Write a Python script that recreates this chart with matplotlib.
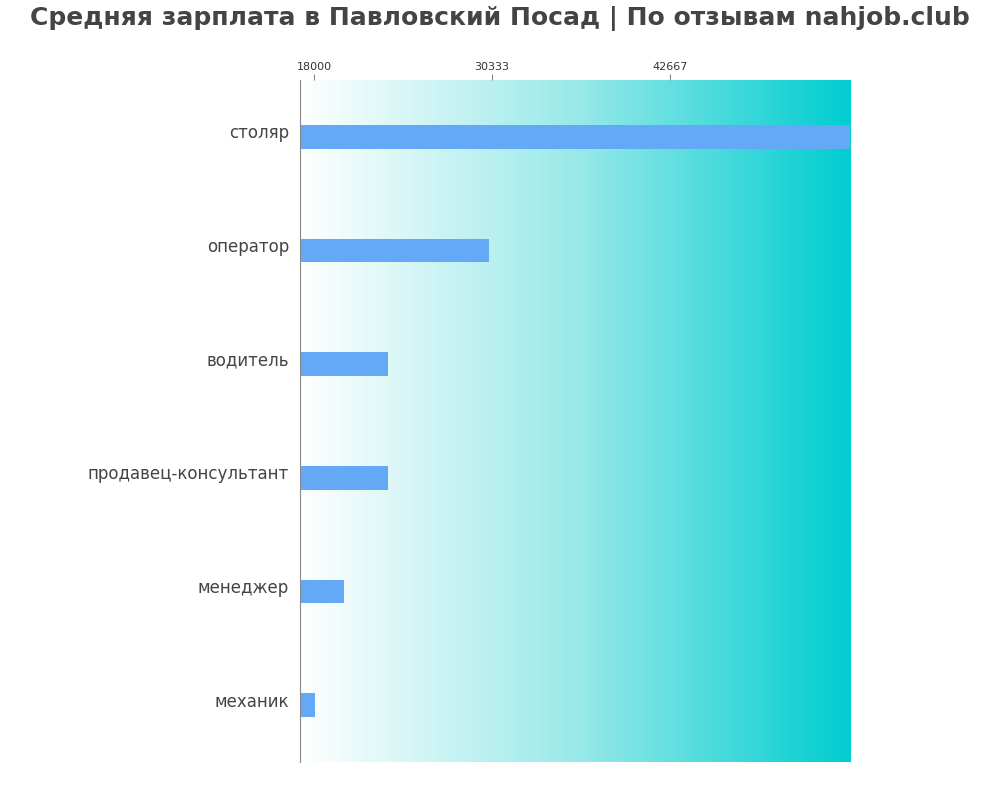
import numpy as np
import matplotlib.pyplot as plt
import matplotlib.transforms as mtransforms
from matplotlib.colors import LinearSegmentedColormap

jobs = ["столяр", "оператор", "водитель", "продавец-консультант", "менеджер", "механик"]
salaries = [55200, 30100, 23100, 23100, 20100, 18100]
ticks = [18000, 30333, 42667]
xmin, xmax = 17030, 55150

fig = plt.figure(figsize=(10, 8), dpi=100)
ax = fig.add_axes([0.3, 0.0475, 0.55, 0.8525])

cmap = LinearSegmentedColormap.from_list("bg", ["#ffffff", "#9ae9e9", "#00cdd0"])
grad = np.linspace(0, 1, 256).reshape(1, -1)
n = len(jobs)
ax.imshow(grad, cmap=cmap, aspect="auto", extent=[xmin, xmax, n - 0.5, -0.5], zorder=0)

y = np.arange(n)
ax.barh(y, salaries, height=0.21, color="#64a9f5", zorder=2)
ax.set_xlim(xmin, xmax)
ax.set_ylim(n - 0.5, -0.5)
ax.set_yticks(y)
ax.set_yticklabels(jobs, fontsize=12, color="#444444")
ax.tick_params(axis="y", length=0, pad=8)
shift = mtransforms.ScaledTranslation(0, 4 / 72, fig.dpi_scale_trans)
for lbl in ax.get_yticklabels():
    lbl.set_transform(lbl.get_transform() + shift)
ax.xaxis.tick_top()
ax.set_xticks(ticks)
ax.set_xticklabels([str(t) for t in ticks], fontsize=8, color="#333333")
ax.tick_params(axis="x", length=4, color="#888888", pad=2)
for s in ["top", "right", "bottom"]:
    ax.spines[s].set_visible(False)
ax.spines["left"].set_color("#888888")

fig.suptitle("Средняя зарплата в Павловский Посад | По отзывам nahjob.club",
             fontsize=18, fontweight="bold", color="#444444", y=0.993)
fig.savefig("out.png", dpi=100)
